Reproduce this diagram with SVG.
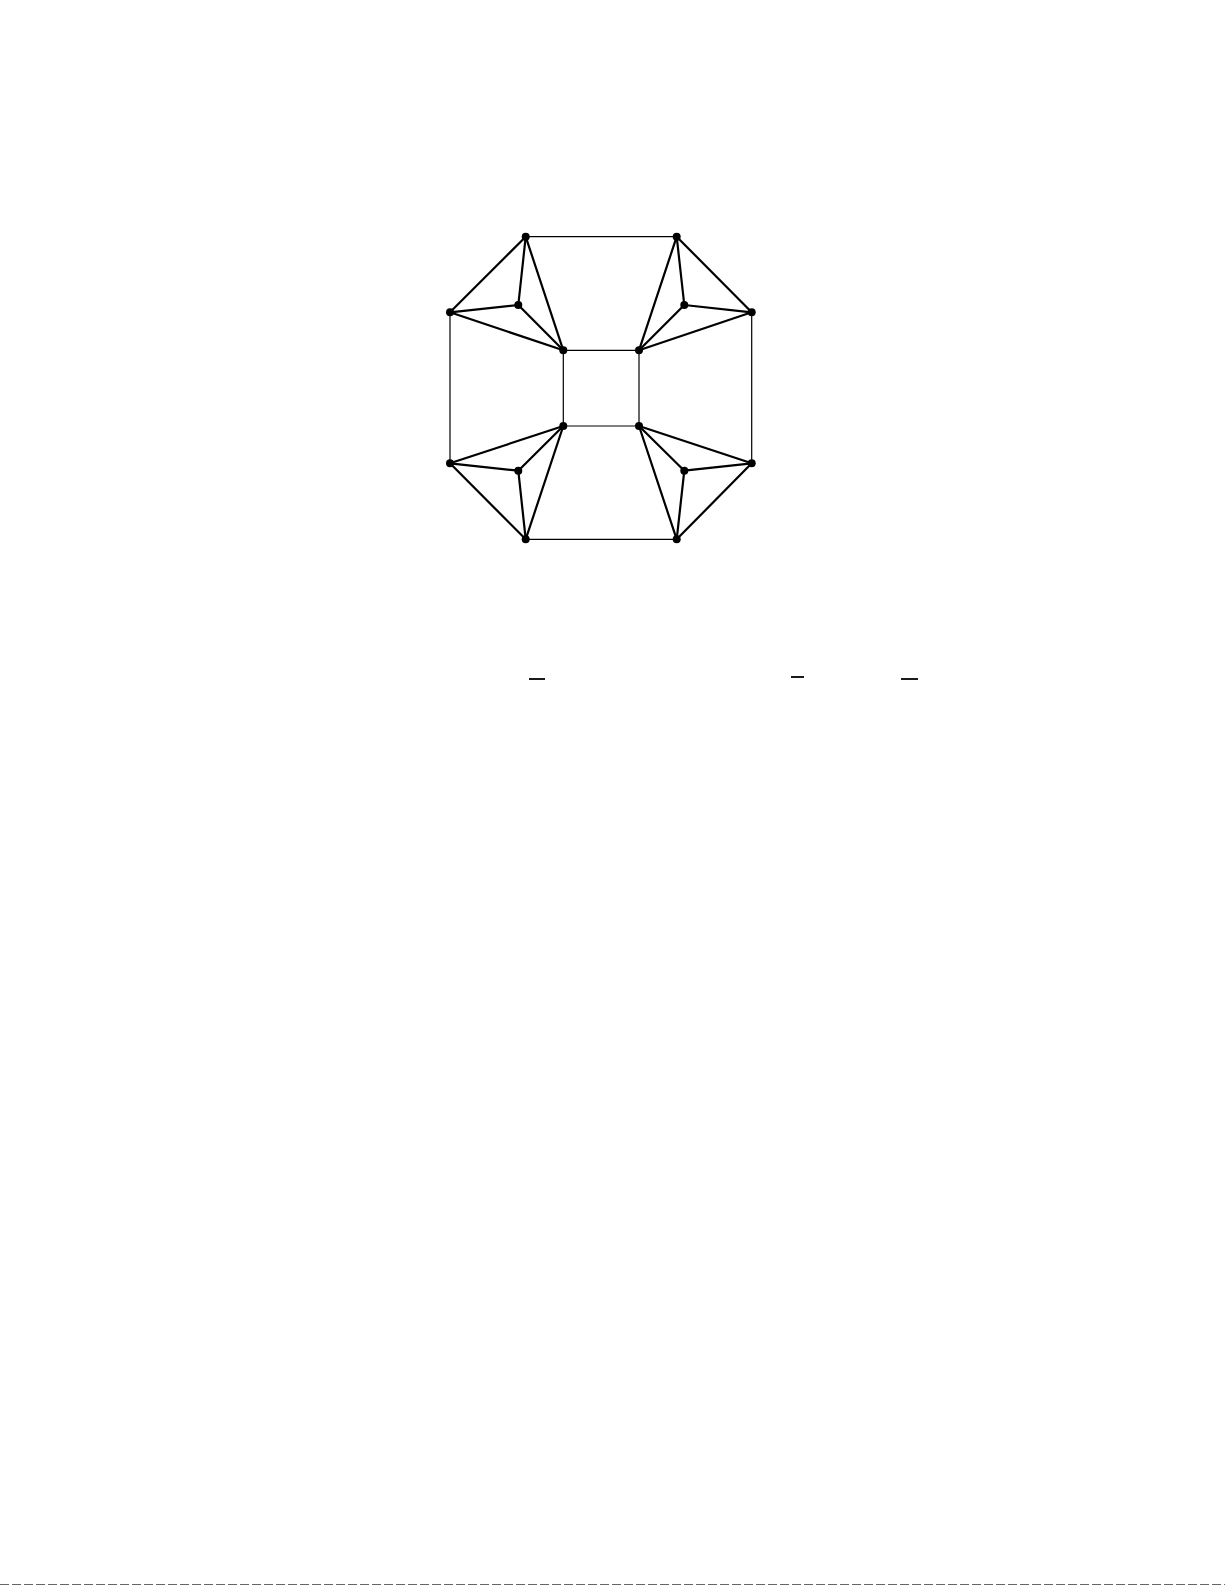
<svg xmlns="http://www.w3.org/2000/svg" width="1225" height="1585" viewBox="0 0 1225 1585">
<style>
.thin{stroke:#000;stroke-width:1.2;fill:none}
.thick{stroke:#000;stroke-width:2.2;fill:none;stroke-linecap:round}
.node{fill:#000}
.bar{stroke:#000;stroke-width:1.8}
</style>
<rect width="1225" height="1585" fill="#fff"/>
<g id="connectors">
<line class="thin" x1="525.7" y1="236.7" x2="676.7" y2="236.7"/>
<line class="thin" x1="525.7" y1="539.3" x2="676.7" y2="539.3"/>
<line class="thin" x1="450" y1="312.3" x2="450" y2="463.3"/>
<line class="thin" x1="751.7" y1="312.3" x2="751.7" y2="463.3"/>
<line class="thin" x1="563.3" y1="350.3" x2="639" y2="350.3"/>
<line class="thin" x1="563.3" y1="426" x2="639" y2="426"/>
<line class="thin" x1="563.3" y1="350.3" x2="563.3" y2="426"/>
<line class="thin" x1="639" y1="350.3" x2="639" y2="426"/>
<!-- top-left K4 -->
<line class="thick" x1="525.7" y1="236.7" x2="450" y2="312.3"/>
<line class="thick" x1="525.7" y1="236.7" x2="518.3" y2="305"/>
<line class="thick" x1="525.7" y1="236.7" x2="563.3" y2="350.3"/>
<line class="thick" x1="450" y1="312.3" x2="518.3" y2="305"/>
<line class="thick" x1="450" y1="312.3" x2="563.3" y2="350.3"/>
<line class="thick" x1="518.3" y1="305" x2="563.3" y2="350.3"/>
<!-- top-right K4 -->
<line class="thick" x1="676.7" y1="236.7" x2="751.7" y2="312.3"/>
<line class="thick" x1="676.7" y1="236.7" x2="684.3" y2="305"/>
<line class="thick" x1="676.7" y1="236.7" x2="639" y2="350.3"/>
<line class="thick" x1="751.7" y1="312.3" x2="684.3" y2="305"/>
<line class="thick" x1="751.7" y1="312.3" x2="639" y2="350.3"/>
<line class="thick" x1="684.3" y1="305" x2="639" y2="350.3"/>
<!-- bottom-left K4 -->
<line class="thick" x1="525.7" y1="539.3" x2="450" y2="463.3"/>
<line class="thick" x1="525.7" y1="539.3" x2="518.3" y2="470.7"/>
<line class="thick" x1="525.7" y1="539.3" x2="563.3" y2="426"/>
<line class="thick" x1="450" y1="463.3" x2="518.3" y2="470.7"/>
<line class="thick" x1="450" y1="463.3" x2="563.3" y2="426"/>
<line class="thick" x1="518.3" y1="470.7" x2="563.3" y2="426"/>
<!-- bottom-right K4 -->
<line class="thick" x1="676.7" y1="539.3" x2="751.7" y2="463.3"/>
<line class="thick" x1="676.7" y1="539.3" x2="684.3" y2="470.7"/>
<line class="thick" x1="676.7" y1="539.3" x2="639" y2="426"/>
<line class="thick" x1="751.7" y1="463.3" x2="684.3" y2="470.7"/>
<line class="thick" x1="751.7" y1="463.3" x2="639" y2="426"/>
<line class="thick" x1="684.3" y1="470.7" x2="639" y2="426"/>
</g>
<g id="n1"><circle class="node" cx="525.7" cy="236.7" r="4"/></g>
<g id="n2"><circle class="node" cx="676.7" cy="236.7" r="4"/></g>
<g id="n3"><circle class="node" cx="450" cy="312.3" r="4"/></g>
<g id="n4"><circle class="node" cx="751.7" cy="312.3" r="4"/></g>
<g id="n5"><circle class="node" cx="518.3" cy="305" r="4"/></g>
<g id="n6"><circle class="node" cx="684.3" cy="305" r="4"/></g>
<g id="n7"><circle class="node" cx="563.3" cy="350.3" r="4"/></g>
<g id="n8"><circle class="node" cx="639" cy="350.3" r="4"/></g>
<g id="n9"><circle class="node" cx="563.3" cy="426" r="4"/></g>
<g id="n10"><circle class="node" cx="639" cy="426" r="4"/></g>
<g id="n11"><circle class="node" cx="450" cy="463.3" r="4"/></g>
<g id="n12"><circle class="node" cx="751.7" cy="463.3" r="4"/></g>
<g id="n13"><circle class="node" cx="518.3" cy="470.7" r="4"/></g>
<g id="n14"><circle class="node" cx="684.3" cy="470.7" r="4"/></g>
<g id="n15"><circle class="node" cx="525.7" cy="539.3" r="4"/></g>
<g id="n16"><circle class="node" cx="676.7" cy="539.3" r="4"/></g>
<g id="bars">
<line class="bar" x1="529" y1="679" x2="545" y2="679"/>
<line class="bar" x1="791" y1="677" x2="804" y2="677"/>
<line class="bar" x1="901" y1="679" x2="918" y2="679"/>
</g>
<line x1="0" y1="1584.5" x2="1225" y2="1584.5" stroke="#666" stroke-width="1" stroke-dasharray="9 3"/>
</svg>
